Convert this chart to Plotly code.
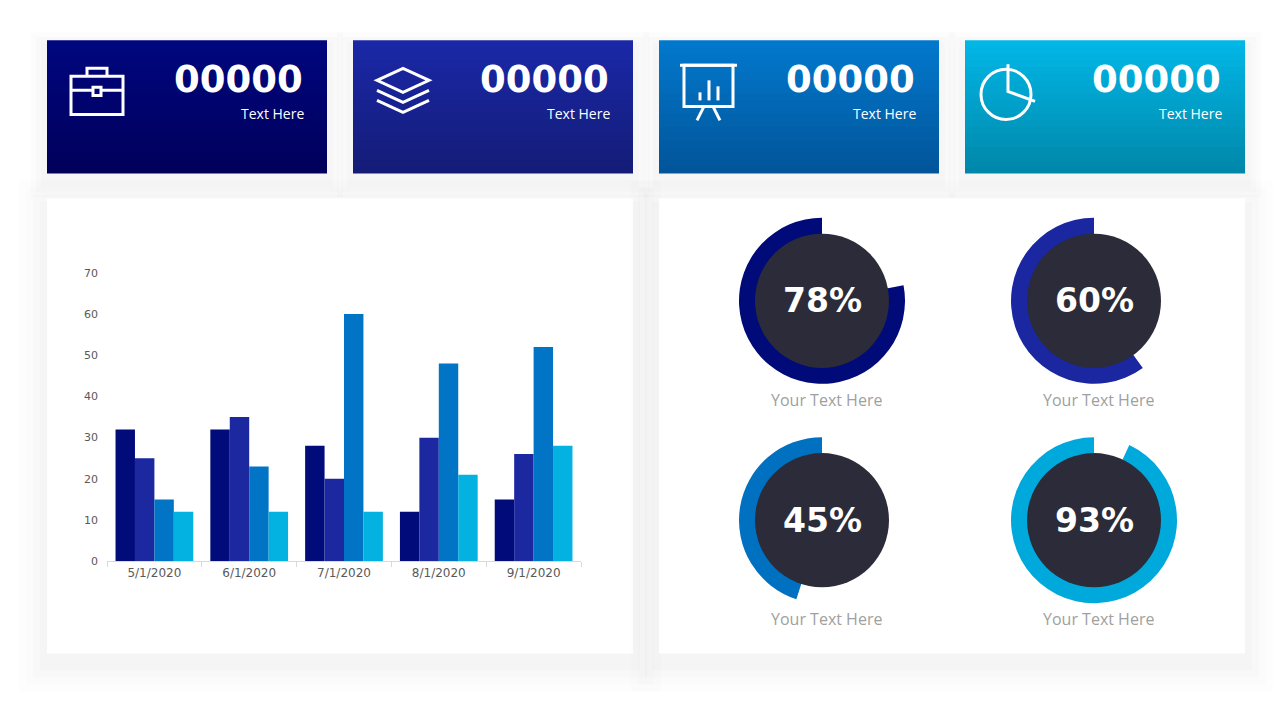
import plotly.graph_objects as go

W, H = 1280, 720

# ---- data ----
dates = ["5/1/2020", "6/1/2020", "7/1/2020", "8/1/2020", "9/1/2020"]
series_a = [32, 32, 28, 12, 15]
series_b = [25, 35, 20, 30, 26]
series_c = [15, 23, 60, 48, 52]
series_d = [12, 12, 12, 21, 28]
bar_colors = ["#020b7a", "#1b28a0", "#0274c6", "#03b2e0"]

card_values = ["00000", "00000", "00000", "00000"]
card_labels = ["Text Here", "Text Here", "Text Here", "Text Here"]

pcts = [78, 60, 45, 93]
pct_labels = ["Your Text Here"] * 4
ring_colors = ["#000a78", "#1a27a0", "#0070c0", "#00a9dc"]


def px(x):
    return x / W


def py(y):
    # small vertical correction measured from the rendered page
    return 1 - ((y - 5.8) / 0.98) / H


def rect(x0, y0, x1, y1, color, **kw):
    return dict(type="rect", xref="paper", yref="paper", x0=px(x0), x1=px(x1),
                y0=py(y1), y1=py(y0), fillcolor=color, line=dict(width=0), layer="below", **kw)


def mix(c1, c2, t):
    a = [int(c1[i:i + 2], 16) for i in (1, 3, 5)]
    b = [int(c2[i:i + 2], 16) for i in (1, 3, 5)]
    return "#%02x%02x%02x" % tuple(round(a[k] + (b[k] - a[k]) * t) for k in range(3))


shapes = []

# panel shadows + panels
for x0, x1 in [(47, 633), (659, 1245)]:
    for i, a in enumerate([0.006, 0.008, 0.01, 0.012]):
        d = 28 - i * 7
        shapes.append(rect(x0 - d, 198 - d + 10, x1 + d, 652 + d + 10, f"rgba(0,0,0,{a})"))
    shapes.append(rect(x0, 198, x1, 652, "white"))

# cards with gradient strips
card_x = [47, 353, 659, 965]
card_grad = [("#00067e", "#00005a"), ("#1a28a6", "#141c78"), ("#0278cc", "#02559a"), ("#02b6e6", "#0088aa")]
for cx, (top, bot) in zip(card_x, card_grad):
    for i in range(3):
        d = 16 - i * 5
        shapes.append(rect(cx - d, 40 - d + 8, cx + 280 + d, 173 + d + 8, "rgba(0,0,0,0.01)"))
    n = 20
    for i in range(n):
        y0 = 40 + i * 133 / n
        y1 = min(173, y0 + 133 / n + 1.5)
        shapes.append(dict(type="rect", xref="paper", yref="paper", x0=px(cx), x1=px(cx + 280),
                           y0=py(y1), y1=py(y0), fillcolor=mix(top, bot, i / (n - 1)),
                           line=dict(width=0), layer="below"))


def path(d_pts, closed=False):
    s = "M " + " L ".join(f"{px(x)},{py(y)}" for x, y in d_pts)
    return s + (" Z" if closed else "")


wl = dict(color="white", width=3)
# briefcase
shapes.append(dict(type="rect", xref="paper", yref="paper", x0=px(71), x1=px(123), y0=py(114), y1=py(76), line=wl, fillcolor="rgba(0,0,0,0)"))
shapes.append(dict(type="path", xref="paper", yref="paper", path=path([(87, 76), (87, 68), (107, 68), (107, 76)]), line=wl))
shapes.append(dict(type="path", xref="paper", yref="paper", path=path([(71, 90), (123, 90)]), line=wl))
shapes.append(dict(type="rect", xref="paper", yref="paper", x0=px(93), x1=px(101), y0=py(95), y1=py(87), line=wl, fillcolor="#00047a"))
# layers
shapes.append(dict(type="path", xref="paper", yref="paper", path=path([(377, 80), (403, 68), (429, 80), (403, 92)], True), line=wl))
shapes.append(dict(type="path", xref="paper", yref="paper", path=path([(377, 90), (403, 102), (429, 90)]), line=wl))
shapes.append(dict(type="path", xref="paper", yref="paper", path=path([(377, 100), (403, 112), (429, 100)]), line=wl))
# presentation board
shapes.append(dict(type="path", xref="paper", yref="paper", path=path([(680, 65), (737, 65)]), line=wl))
shapes.append(dict(type="rect", xref="paper", yref="paper", x0=px(684), x1=px(733), y0=py(106), y1=py(65), line=wl, fillcolor="rgba(0,0,0,0)"))
for bx, by in [(700, 92), (709, 80), (718, 86)]:
    shapes.append(dict(type="path", xref="paper", yref="paper", path=path([(bx, 100), (bx, by)]), line=wl))
shapes.append(dict(type="path", xref="paper", yref="paper", path=path([(704, 106), (697, 120)]), line=wl))
shapes.append(dict(type="path", xref="paper", yref="paper", path=path([(713, 106), (720, 120)]), line=wl))
# pie icon
shapes.append(dict(type="circle", xref="paper", yref="paper", x0=px(981), x1=px(1031), y0=py(119), y1=py(69), line=wl))
shapes.append(dict(type="path", xref="paper", yref="paper", path=path([(1008, 64), (1008, 91), (1035, 101)]), line=wl))

fig = go.Figure()
names = ["A", "B", "C", "D"]
for s, c, n in zip([series_a, series_b, series_c, series_d], bar_colors, names):
    fig.add_trace(go.Bar(x=dates, y=s, name=n, marker=dict(color=c, line=dict(width=0))))

# donuts: empty part first (clockwise from 12), filled part ends back at 12
centers = [(822, 300), (1094, 300), (822, 519), (1094, 519)]
for (cx, cy), p, col, lab in zip(centers, pcts, ring_colors, pct_labels):
    r = 83
    fig.add_trace(go.Pie(values=[100 - p, p], marker=dict(colors=["rgba(0,0,0,0)", col], line=dict(width=0)),
                         hole=0.6, sort=False, direction="clockwise", rotation=0, textinfo="none",
                         hoverinfo="skip", showlegend=False,
                         domain=dict(x=[px(cx - r), px(cx + r)], y=[py(cy + r), py(cy - r)])))
    shapes.append(dict(type="circle", xref="paper", yref="paper", x0=px(cx - 67), x1=px(cx + 67),
                       y0=py(cy + 67), y1=py(cy - 67), fillcolor="#2b2b3a", line=dict(width=0), layer="above"))

annotations = []
for (cx, cy), p, lab in zip(centers, pcts, pct_labels):
    annotations.append(dict(x=px(cx), y=py(cy), xref="paper", yref="paper", text=f"<b>{p}%</b>", showarrow=False,
                            xanchor="center", yanchor="middle",
                            font=dict(size=33, color="white", family="DejaVu Sans")))
    annotations.append(dict(x=px(cx + 4), y=py(cy + 99), xref="paper", yref="paper", text=lab, showarrow=False,
                            xanchor="center", yanchor="middle",
                            font=dict(size=16, color="#a0a0a0", family="Open Sans")))
for cx, v, t in zip(card_x, card_values, card_labels):
    annotations.append(dict(x=px(cx + 258), y=py(79), xref="paper", yref="paper", text=f"<b>{v}</b>", showarrow=False,
                            xanchor="right", yanchor="middle", font=dict(size=37, color="white", family="DejaVu Sans")))
    annotations.append(dict(x=px(cx + 259), y=py(113), xref="paper", yref="paper", text=t, showarrow=False,
                            xanchor="right", yanchor="middle", font=dict(size=14, color="white", family="Open Sans")))

fig.update_layout(
    width=W, height=H, margin=dict(l=0, r=0, t=0, b=0),
    paper_bgcolor="white", plot_bgcolor="white",
    showlegend=False, barmode="group", bargap=0.18, bargroupgap=0,
    shapes=shapes, annotations=annotations,
    xaxis=dict(domain=[px(107), px(581)], showline=True, linecolor="#d9d9d9", ticks="outside",
               tickcolor="#d9d9d9", ticklen=5, tickson="boundaries", showgrid=False,
               tickfont=dict(size=12, color="#595959", family="DejaVu Sans")),
    yaxis=dict(domain=[py(560), py(272)], range=[0, 70], dtick=10, showgrid=False, zeroline=False,
               tickfont=dict(size=11, color="#595959", family="DejaVu Sans"), ticklabelstandoff=8),
)

fig.write_html("out.html", config={"displayModeBar": False},
               post_script="document.body.style.margin='0';document.body.style.overflow='hidden';")
